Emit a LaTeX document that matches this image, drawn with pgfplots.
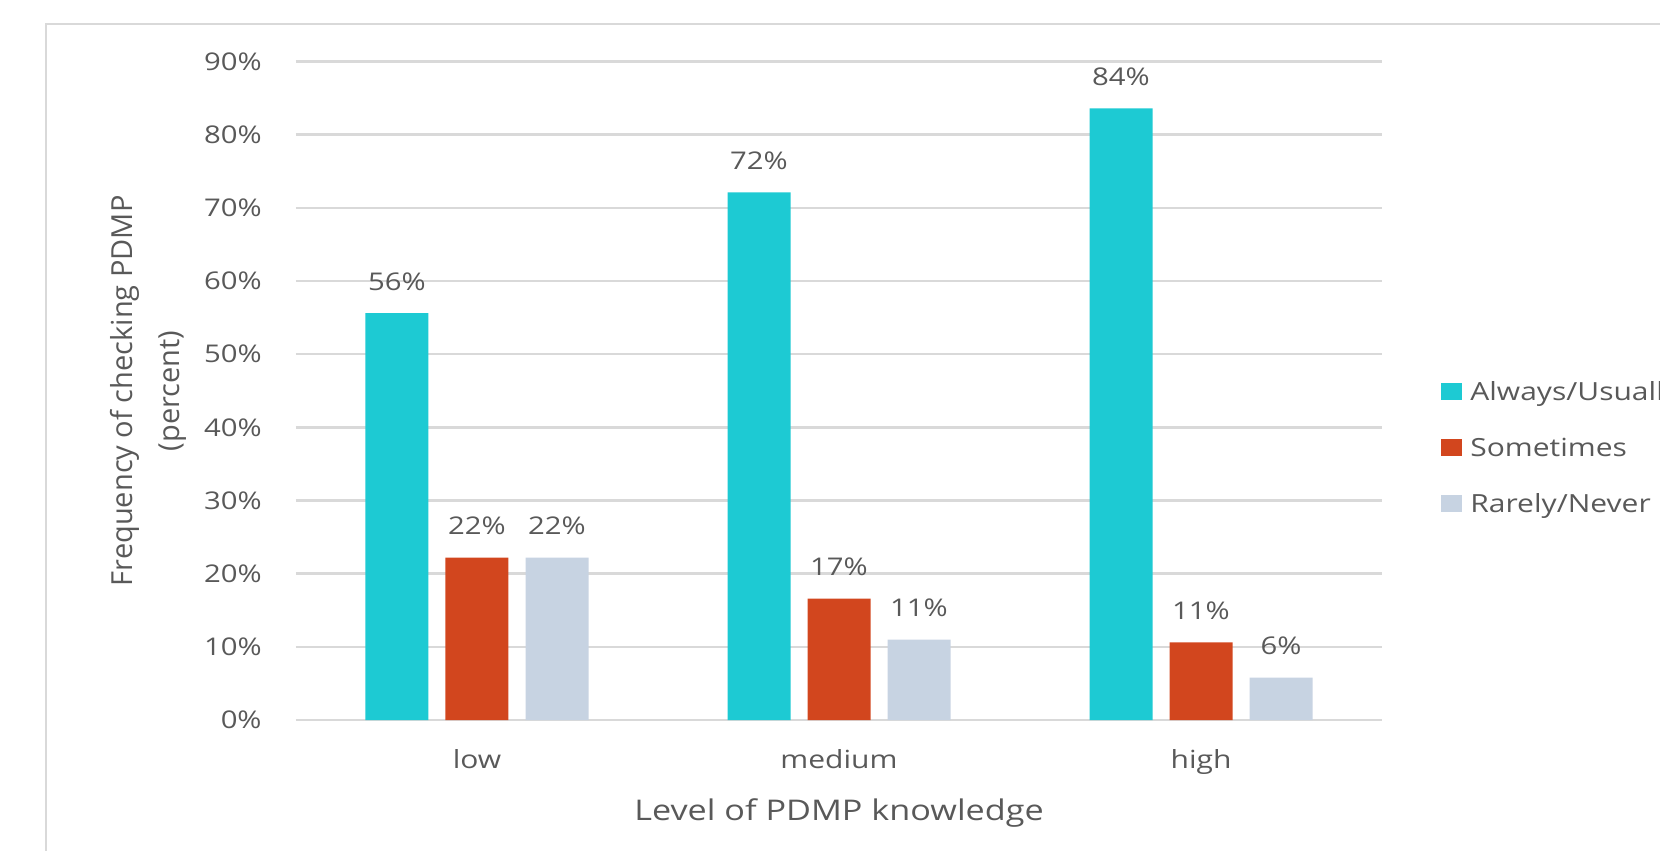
\documentclass[border=0pt]{standalone}
\usepackage{fontspec}
\setmainfont[FakeStretch=1.2]{Open Sans}
\newfontfamily\ylfont{Open Sans}
\usepackage{pgfplots}
\usepackage{pgfplotstable}
\pgfplotsset{compat=1.18}

\definecolor{cAlways}{HTML}{1DCAD3}
\definecolor{cSome}{HTML}{D2461E}
\definecolor{cRare}{HTML}{C7D3E2}
\definecolor{txt}{HTML}{595959}
\definecolor{gridgray}{HTML}{D9D9D9}

% level of knowledge: 0 low, 1 medium, 2 high (percent)
\pgfplotstableread{
x always some rare
0 55.6 22.2 22.2
1 72.1 16.6 11.0
2 83.6 10.6 5.8
}\pdmp

\begin{document}
\begin{tikzpicture}
\useasboundingbox (-148pt,-65.5pt) rectangle (682pt,360pt);
\draw[gridgray, line width=1.3pt] (-125pt,-140pt) rectangle (780pt,348pt);
\begin{axis}[
    scale only axis,
    width=543pt, height=329.25pt,
    ybar=8.5pt, bar width=31.5pt,
    xmin=-0.5, xmax=2.5,
    ymin=0, ymax=90,
    xtick={0,1,2},
    xticklabels={low,medium,high},
    ytick={0,10,...,90},
    yticklabels={0\%,10\%,20\%,30\%,40\%,50\%,60\%,70\%,80\%,90\%},
    axis line style={draw=none},
    major tick length=0pt,
    ymajorgrids,
    grid style={gridgray, line width=1.3pt},
    /pgf/number format/assume math mode=true,
    xticklabel style={anchor=base, yshift=-24pt, text=txt, font=\fontsize{12.5}{15}\selectfont},
    yticklabel style={anchor=east, inner sep=0pt, xshift=-17pt, text=txt, font=\fontsize{12.2}{15}\selectfont},
    xlabel={Level of PDMP knowledge},
    xlabel style={at={(axis description cs:0.5,-0.1519)}, anchor=base, text=txt, font=\fontsize{14.25}{17}\selectfont},
    ylabel={Frequency of checking PDMP\\(percent)},
    ylabel style={at={(axis description cs:-0.1358,0.5)}, anchor=center, align=center, text=txt, font=\ylfont\fontsize{14.5}{23.5}\selectfont},
    nodes near coords={\pgfmathprintnumber[fixed,precision=0]{\pgfplotspointmeta}\%},
    nodes near coords style={anchor=base, yshift=11.5pt, text=txt, font=\fontsize{12.2}{15}\selectfont},
    legend style={at={(axis description cs:1.0543,0.41)}, anchor=west, draw=none, fill=none,
        inner sep=0pt, row sep=12pt, font=\fontsize{12.5}{15}\selectfont,
        nodes={inner sep=2pt, text height=9pt, text depth=3pt, text=txt},
        /tikz/every even column/.append style={column sep=0pt}},
    legend cell align=left,
    legend image code/.code={\fill[#1] (0pt,-3pt) rectangle (10.3pt,5.3pt); \path (12.5pt,0pt);},
]
\addplot[draw=none, fill=cAlways] table[x=x, y=always] {\pdmp};
\addlegendentry{Always/Usually}
\addplot[draw=none, fill=cSome] table[x=x, y=some] {\pdmp};
\addlegendentry{Sometimes}
\addplot[draw=none, fill=cRare] table[x=x, y=rare] {\pdmp};
\addlegendentry{Rarely/Never}
\end{axis}
\end{tikzpicture}
\end{document}
